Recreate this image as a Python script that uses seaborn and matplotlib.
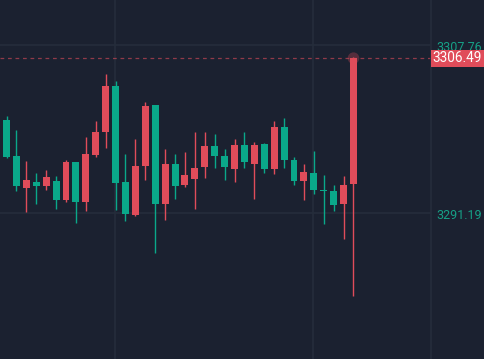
import matplotlib.pyplot as plt
import numpy as np
import pandas as pd
import seaborn as sns
from matplotlib.patches import Rectangle

# candle values (left to right)
opens = [3300.38, 3296.82, 3293.69, 3294.25, 3293.89, 3294.35, 3292.50, 3296.23, 3292.31, 3296.95,
         3299.22, 3303.74, 3294.25, 3291.02, 3295.86, 3301.86, 3292.11, 3296.03, 3293.99, 3294.58,
         3295.76, 3297.81, 3296.82, 3295.57, 3297.91, 3296.06, 3298.01, 3295.57, 3299.69, 3296.43,
         3294.38, 3295.14, 3293.46, 3293.36, 3292.11, 3294.08]
highs = [3300.77, 3299.39, 3296.33, 3295.14, 3295.44, 3294.84, 3296.43, 3296.23, 3298.70, 3300.28,
         3304.92, 3304.23, 3297.02, 3298.50, 3302.16, 3301.90, 3297.51, 3297.02, 3297.22, 3299.19,
         3299.19, 3299.00, 3297.51, 3298.50, 3299.19, 3298.20, 3298.10, 3300.28, 3300.58, 3296.75,
         3296.03, 3297.32, 3294.94, 3293.96, 3294.87, 3306.60]
lows = [3296.62, 3293.39, 3291.29, 3292.11, 3293.49, 3291.61, 3292.31, 3290.23, 3291.42, 3296.75,
        3297.64, 3291.51, 3290.43, 3290.92, 3294.48, 3287.27, 3290.53, 3292.60, 3293.79, 3291.61,
        3294.68, 3295.67, 3294.48, 3294.28, 3295.67, 3292.60, 3295.17, 3295.07, 3295.67, 3293.99,
        3292.50, 3293.10, 3290.13, 3291.42, 3288.65, 3283.02]
closes = [3296.72, 3293.86, 3294.45, 3293.89, 3294.75, 3292.50, 3296.23, 3292.31, 3297.02, 3299.19,
          3303.74, 3294.18, 3291.12, 3295.83, 3301.76, 3292.11, 3296.03, 3293.89, 3294.94, 3295.64,
          3297.81, 3296.85, 3295.76, 3297.91, 3296.26, 3297.91, 3295.57, 3299.69, 3296.46, 3294.38,
          3295.24, 3293.49, 3293.41, 3292.01, 3293.96, 3306.49]

grid_prices = [3307.76, 3291.19]
grid_candles = [11, 31]
last_price = 3306.49

BG = "#1b2130"
GRID = "#252d3b"
UP = "#e04c5a"
DOWN = "#0aa88a"
LABEL = "#16a086"

sns.set_theme(style="dark", rc={"axes.facecolor": BG, "figure.facecolor": BG})

df = pd.DataFrame({"open": opens, "high": highs, "low": lows, "close": closes})
df["i"] = np.arange(len(df))
df["up"] = df["close"] >= df["open"]
df["color"] = np.where(df["up"], UP, DOWN)
df["bottom"] = df[["open", "close"]].min(axis=1)
df["height"] = (df["close"] - df["open"]).abs().clip(lower=0.06)

fig = plt.figure(figsize=(4.84, 3.59), dpi=100)
ax = fig.add_axes([0, 0, 431 / 484, 1])

for p in grid_prices:
    ax.axhline(p, color=GRID, lw=1.2, zorder=0)
for c in grid_candles:
    ax.axvline(c - 0.06, color=GRID, lw=1.2, zorder=0)

ax.vlines(df["i"], df["low"], df["high"], colors=df["color"], lw=1, zorder=2)
ax.bar(df["i"], df["height"], bottom=df["bottom"], width=0.7, color=df["color"],
       edgecolor="none", linewidth=0, zorder=3)

# last price dashed line and glow
ax.axhline(last_price, color=UP, lw=0.9, ls=(0, (3, 3)), alpha=0.6, zorder=1)
last = df.iloc[[-1]]
sns.scatterplot(data=last, x="i", y="close", s=70, color=UP, alpha=0.3, edgecolor="none", ax=ax, zorder=4)

ax.set_xlim(-0.656, 42.82)
ax.set_ylim(3276.76, 3312.24)
ax.set_xticks([])
ax.set_yticks([])
ax.set_xlabel("")
ax.set_ylabel("")
for s in ax.spines.values():
    s.set_visible(False)
ax.spines["right"].set_visible(True)
ax.spines["right"].set_color(GRID)
ax.spines["right"].set_linewidth(1.2)

# price axis labels, sitting a little below their grid lines
for p in grid_prices:
    ax.text(1.012, p - 0.22, f"{p:.2f}", transform=ax.get_yaxis_transform(), color=LABEL,
            fontsize=9.0, family="Roboto", va="center", ha="left", clip_on=False)

# last price tag on the right axis
fig.patches.append(Rectangle((431 / 484, 1 - 67 / 359), 53 / 484, 17 / 359,
                             transform=fig.transFigure, fc=UP, ec="none", zorder=5))
fig.text(457.5 / 484, 1 - 58.5 / 359, f"{last_price:.2f}", color="white", fontsize=9.8,
         family="Roboto", va="center", ha="center", zorder=6)

fig.savefig("out.png", dpi=100, facecolor=BG)
